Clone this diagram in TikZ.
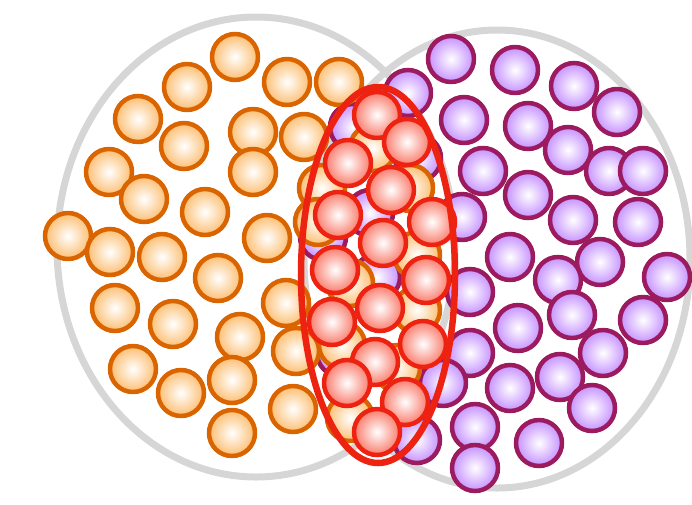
\documentclass[tikz,border=0pt]{standalone}
\usepackage{tikz}

\definecolor{gris}{HTML}{D6D6D6}
\definecolor{orangeT}{HTML}{D96400}
\definecolor{orangeF}{HTML}{FCBE72}
\definecolor{violetT}{HTML}{9B1B5E}
\definecolor{violetF}{HTML}{C590FF}
\definecolor{rougeT}{HTML}{EE2211}
\definecolor{rougeF}{HTML}{F97A6A}

\begin{document}
\begin{tikzpicture}[line cap=round,line join=round,x=1pt,y=-1pt,
	bouleO/.style={draw=orangeT,line width=4.5pt,inner color=white,outer color=orangeF},
	bouleV/.style={draw=violetT,line width=4.5pt,inner color=white,outer color=violetF},
	bouleR/.style={draw=rougeT,line width=4.5pt,inner color=white,outer color=rougeF}]
				\useasboundingbox (0,0) rectangle (692,504);
				% Grands cercles
				\draw[gris,line width=7pt] (256,247) ellipse (199 and 230);
				\draw[gris,line width=7pt] (497,259) ellipse (193 and 229);
				% Boules violettes
				\foreach \x/\y in {353/127,408/93,418/158,370/213,323/237,377/277,340/353,
					451/59,515/70,574/86,617/112,464/120,528/126,568/150,609/171,643/171,
					483/171,528/195,573/220,638/222,462/217,510/257,600/262,
					558/280,667/277,470/292,518/328,572/315,643/320,603/353,
					470/353,443/383,510/388,560/377,592/408,475/427,475/468,539/443,417/440}
					\draw[bouleV] (\x,\y) circle (23);
				% Boules oranges
				\foreach \x/\y in {235/57,187/87,287/82,339/82,138/119,184/146,253/132,
					304/137,253/172,109/172,144/199,205/212,267/238,68/236,110/252,
					162/257,218/278,115/308,173/324,240/337,286/303,296/351,133/369,
					181/393,232/380,232/433,293/409,
					373/148,410/188,322/188,318/222,350/283,417/255,417/310,342/345,
					397/368,350/418}
					\draw[bouleO] (\x,\y) circle (23);
				% Boules rouges
				\foreach \x/\y in {377/115,407/142,348/163,391/190,338/215,432/222,
					383/243,335/270,426/280,380/308,332/322,423/344,375/362,347/383,
					405/402,377/432}
					\draw[bouleR] (\x,\y) circle (23);
				% Ellipse
				\draw[rougeT,line width=6.5pt] (378,275) ellipse (77 and 188);
		\end{tikzpicture}
\end{document}
